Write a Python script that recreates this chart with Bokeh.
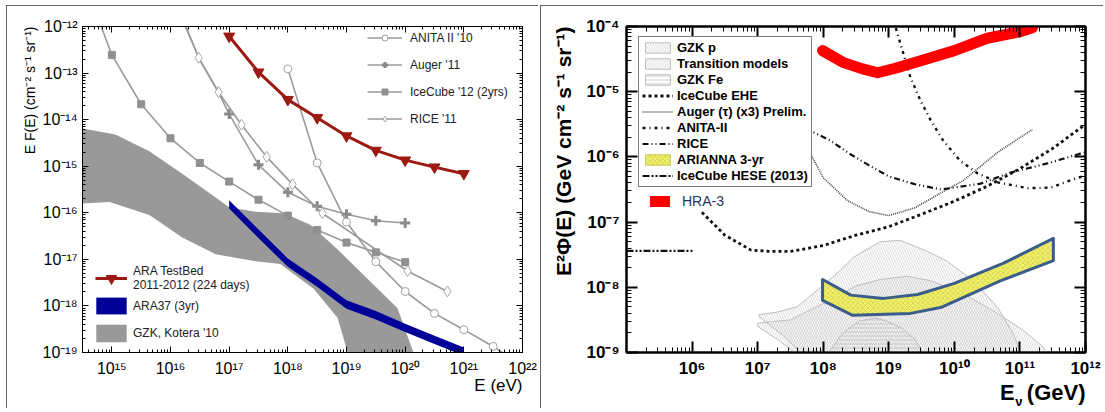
import numpy as np
from bokeh.plotting import figure
from bokeh.models import (LogAxis, FixedTicker, CustomJSTickFormatter, Legend,
                          LegendItem, Range1d, Title)
from bokeh.layouts import row
from bokeh.embed import file_html
from bokeh.resources import INLINE

FONT = "Liberation Sans"

# ================= LEFT PANEL DATA =================
# log10(E / eV)  and  log10(E F(E) / cm^-2 s^-1 sr^-1)
ara_tb_logE = [17.0, 17.5, 18.0, 18.5, 19.0, 19.5, 20.0, 20.5, 21.0]
ara_tb_logF = [-12.21, -12.98, -13.57, -13.96, -14.35, -14.66, -14.87, -15.02, -15.16]

ara37_logE = [17.0, 17.5, 18.0, 18.5, 19.0, 19.5, 20.0, 20.5, 21.0]
ara37_up_logF = [-15.73, -16.36, -16.98, -17.41, -17.88, -18.11, -18.38, -18.64, -18.89]
ara37_lo_logF = [-15.91, -16.54, -17.16, -17.59, -18.06, -18.29, -18.56, -18.82, -19.07]

kotera_up_logE = [14.4, 14.5, 15.06, 15.64, 16.2, 16.77, 17.0, 17.45, 17.93, 18.39, 18.85, 19.41, 19.87, 20.14, 20.25]
kotera_up_logF = [-14.19, -14.19, -14.32, -14.68, -15.16, -15.67, -15.88, -15.98, -16.01, -16.26, -16.79, -17.48, -18.05, -19.0, -19.3]
kotera_lo_logE = [14.4, 14.5, 14.96, 15.64, 16.2, 16.77, 17.45, 17.87, 18.44, 18.85, 19.02, 19.08]
kotera_lo_logF = [-15.80, -15.80, -15.77, -16.05, -16.53, -16.89, -17.04, -17.1, -17.63, -18.26, -19.0, -19.3]

icecube12_logE = [15.0, 15.5, 16.0, 16.5, 17.0, 17.5, 18.0, 18.5, 19.0, 19.5, 20.0]
icecube12_logF = [-12.61, -13.67, -14.40, -14.93, -15.33, -15.72, -16.06, -16.37, -16.64, -16.85, -17.06]
icecube12_lead_logE = [14.7]          # curve continues above the frame
icecube12_lead_logF = [-11.6]

auger11_logE = [17.0, 17.5, 18.0, 18.5, 19.0, 19.5, 20.0]
auger11_logF = [-13.88, -14.97, -15.56, -15.86, -16.03, -16.17, -16.22]
auger11_lead_logE = [16.15, 16.5, 16.82]
auger11_lead_logF = [-11.7, -12.72, -13.42]

rice11_logE = [16.48, 16.82, 17.21, 17.64, 18.08, 18.59, 20.04, 20.72]
rice11_logF = [-12.67, -13.41, -14.11, -14.80, -15.39, -16.01, -17.25, -17.69]
rice11_lead_logE = [16.1]
rice11_lead_logF = [-11.5]

anita10_logE = [18.0, 18.5, 19.0, 19.5, 20.0, 20.5, 21.0, 21.5]
anita10_logF = [-12.91, -14.93, -16.2, -17.05, -17.69, -18.16, -18.51, -18.87]
anita10_tail_logE = [21.9]
anita10_tail_logF = [-19.2]

# ================= RIGHT PANEL DATA =================
# log10(E_nu / GeV)  and  log10(E^2 Phi / GeV cm^-2 s^-1 sr^-1)
hra3_logE = [7.99, 8.3, 8.6, 8.83, 9.1, 9.5, 10.0, 10.5, 11.0, 11.19]
hra3_logF = [-4.37, -4.55, -4.65, -4.71, -4.64, -4.52, -4.37, -4.18, -4.08, -4.02]

arianna_up_logE = [7.99, 8.42, 8.92, 9.44, 10.0, 10.75, 11.51]
arianna_up_logF = [-7.88, -8.12, -8.17, -8.11, -7.94, -7.63, -7.25]
arianna_lo_logE = [7.99, 8.45, 9.33, 9.79, 10.7, 11.51]
arianna_lo_logF = [-8.2, -8.43, -8.4, -8.31, -7.9, -7.59]

ehe_logE = [6.15, 6.5, 6.9, 7.2, 7.5, 8.0, 8.5, 9.0, 9.5, 10.0, 10.5, 11.0, 11.5, 12.0]
ehe_logF = [-6.85, -7.2, -7.43, -7.45, -7.45, -7.36, -7.2, -7.07, -6.88, -6.68, -6.45, -6.18, -5.87, -5.5]

augertau_logE = [7.76, 8.0, 8.37, 8.7, 9.0, 9.4, 9.8, 10.14, 10.66, 11.19]
augertau_logF = [-5.86, -6.32, -6.67, -6.84, -6.9, -6.78, -6.55, -6.36, -5.93, -5.58]

anita2_logE = [9.05, 9.1, 9.15, 9.33, 9.48, 9.64, 9.83, 10.09, 10.35, 10.66, 11.12, 11.47, 11.88, 12.0]
anita2_logF = [-3.85, -4.0, -4.17, -4.78, -5.13, -5.44, -5.75, -6.06, -6.25, -6.39, -6.48, -6.47, -6.32, -6.29]

rice_logE = [7.73, 8.11, 8.4, 8.7, 9.0, 9.4, 9.8, 10.4, 10.86, 11.42, 11.92, 12.0]
rice_logF = [-5.56, -5.75, -5.95, -6.13, -6.3, -6.42, -6.5, -6.41, -6.24, -6.1, -5.95, -5.93]

hese_logE = [5.0, 6.02]
hese_logF = [-7.44, -7.44]

gzkp_logE = [7.02, 7.3, 7.6, 8.0, 8.26, 8.46, 8.87, 9.18, 9.59, 9.89, 10.29, 10.66, 10.9, 11.05, 7.75, 7.4, 7.02]
gzkp_logF = [-8.42, -8.38, -8.3, -7.97, -7.74, -7.54, -7.3, -7.28, -7.45, -7.6, -7.9, -8.31, -8.71, -9.1, -9.1, -8.75, -8.45]

trans_logE = [7.0, 7.5, 8.0, 8.5, 8.87, 9.28, 9.64, 10.14, 10.66, 11.05, 11.36, 11.45, 7.7, 7.3, 7.0]
trans_logF = [-8.55, -8.5, -8.25, -7.98, -7.88, -7.83, -7.9, -8.1, -8.4, -8.66, -8.92, -9.1, -9.1, -8.8, -8.6]

gzkfe_logE = [8.05, 8.3, 8.55, 8.8, 9.0, 9.2, 9.4, 9.55]
gzkfe_logF = [-9.05, -8.7, -8.52, -8.47, -8.53, -8.63, -8.8, -9.05]


def pw(a):
    return [10.0 ** v for v in a]


SUP_JS = """
const sup = {"-": "\u207b", "0": "\u2070", "1": "\u00b9", "2": "\u00b2", "3": "\u00b3",
             "4": "\u2074", "5": "\u2075", "6": "\u2076", "7": "\u2077", "8": "\u2078", "9": "\u2079"};
const e = Math.round(Math.log10(tick));
let s = "";
for (const c of String(e)) { s += sup[c]; }
return "10" + s;
"""


def decade_ticks(lo, hi):
    major = [10.0 ** k for k in range(lo, hi + 1)]
    minor = [m * 10.0 ** k for k in range(lo - 1, hi + 1) for m in range(2, 10)]
    return major, minor


def style_axis(ax, size, bold, maj, mnr, lw, standoff, labels=True):
    ax.major_tick_in = maj
    ax.major_tick_out = 0
    ax.minor_tick_in = mnr
    ax.minor_tick_out = 0
    ax.axis_line_width = lw
    ax.major_tick_line_width = lw
    ax.minor_tick_line_width = 1
    ax.axis_line_color = "black"
    ax.major_label_text_font = FONT
    ax.major_label_text_font_size = size
    ax.major_label_text_font_style = "bold" if bold else "normal"
    ax.major_label_text_color = "black"
    ax.major_label_standoff = standoff
    if not labels:
        ax.formatter = CustomJSTickFormatter(code="return '';")
        ax.major_label_standoff = 0


def add_frame_axes(p, xt, yt, size, bold, maj, mnr, lw, sx, sy):
    xmaj, xmin = xt
    ymaj, ymin = yt
    p.xaxis[0].ticker = FixedTicker(ticks=xmaj, minor_ticks=xmin)
    p.yaxis[0].ticker = FixedTicker(ticks=ymaj, minor_ticks=ymin)
    p.xaxis[0].formatter = CustomJSTickFormatter(code=SUP_JS)
    p.yaxis[0].formatter = CustomJSTickFormatter(code=SUP_JS)
    style_axis(p.xaxis[0], size, bold, maj, mnr, lw, sx)
    style_axis(p.yaxis[0], size, bold, maj, mnr, lw, sy)
    top = LogAxis(ticker=FixedTicker(ticks=xmaj, minor_ticks=xmin))
    right = LogAxis(ticker=FixedTicker(ticks=ymaj, minor_ticks=ymin))
    style_axis(top, size, bold, maj, mnr, lw, 0, labels=False)
    style_axis(right, size, bold, maj, mnr, lw, 0, labels=False)
    p.add_layout(top, "above")
    p.add_layout(right, "right")


def legend(items, loc, gw, gh, standoff, size="12px", spacing=0, padding=0, **kw):
    return Legend(items=items, location=loc, glyph_width=gw, glyph_height=gh,
                  label_standoff=standoff, label_text_font=FONT, label_text_font_size=size,
                  spacing=spacing, padding=padding, margin=0, border_line_color=None,
                  background_fill_alpha=0, **kw)


# ================= LEFT FIGURE =================
p1 = figure(width=532, height=403, x_axis_type="log", y_axis_type="log",
            x_range=Range1d(10 ** 14.5, 1e22), y_range=Range1d(1e-19, 1e-12),
            output_backend="svg", toolbar_location=None,
            min_border_left=76, min_border_right=16, min_border_top=18, min_border_bottom=53)
p1.grid.visible = False
p1.outline_line_color = "black"
p1.background_fill_color = "white"
p1.border_fill_color = "white"
p1.styles = {"outline": "1px solid #333", "outline-offset": "-1px"}
add_frame_axes(p1, decade_ticks(15, 22), decade_ticks(-19, -12), "16px", False, 6, 3, 1, 7, 5)

GRAY = "#9a9a9a"
r_kot = p1.patch(pw(kotera_up_logE + kotera_lo_logE[::-1]), pw(kotera_up_logF + kotera_lo_logF[::-1]),
                 fill_color="#999999", line_color=None)
r_a37 = p1.varea(x=pw(ara37_logE), y1=pw(ara37_lo_logF), y2=pw(ara37_up_logF), fill_color="#000099")

r_ic_l = p1.line(pw(icecube12_lead_logE + icecube12_logE), pw(icecube12_lead_logF + icecube12_logF),
                 line_color=GRAY, line_width=1.6)
r_ic_m = p1.scatter(pw(icecube12_logE), pw(icecube12_logF), marker="square", size=7,
                    fill_color="#909090", line_color="#909090")
r_au_l = p1.line(pw(auger11_lead_logE + auger11_logE), pw(auger11_lead_logF + auger11_logF),
                 line_color=GRAY, line_width=1.6)
r_au_m = p1.scatter(pw(auger11_logE), pw(auger11_logF), marker="cross", size=10,
                    line_color="#8a8a8a", line_width=3)
r_ri_l = p1.line(pw(rice11_lead_logE + rice11_logE), pw(rice11_lead_logF + rice11_logF),
                 line_color=GRAY, line_width=1.6)
r_ri_m = p1.scatter(pw(rice11_logE), pw(rice11_logF), marker="diamond", size=11,
                    fill_color="white", line_color="#a8a8a8", line_width=1)
r_an_l = p1.line(pw(anita10_logE + anita10_tail_logE), pw(anita10_logF + anita10_tail_logF),
                 line_color=GRAY, line_width=1.6)
r_an_m = p1.scatter(pw(anita10_logE), pw(anita10_logF), marker="circle", size=8,
                    fill_color="white", line_color="#a0a0a0", line_width=1)

RED = "#9c1a12"
r_tb_l = p1.line(pw(ara_tb_logE), pw(ara_tb_logF), line_color=RED, line_width=3)
r_tb_m = p1.scatter(pw(ara_tb_logE), pw(ara_tb_logF), marker="inverted_triangle", size=11,
                    fill_color=RED, line_color=RED)

p1.add_layout(legend([
    LegendItem(label="ANITA II '10", renderers=[r_an_l, r_an_m]),
    LegendItem(label="Auger '11", renderers=[r_au_l, r_au_m]),
    LegendItem(label="IceCube '12 (2yrs)", renderers=[r_ic_l, r_ic_m]),
    LegendItem(label="RICE '11", renderers=[r_ri_l, r_ri_m]),
], (285, 226), 35, 15, 8, spacing=12, label_height=15, label_text_color="#222222"))

p1.add_layout(legend([LegendItem(label="ARA TestBed\n2011-2012 (224 days)", renderers=[r_tb_l, r_tb_m])],
                     (13, 60), 32, 26, 6, label_text_color="#222222"))
p1.add_layout(legend([LegendItem(label="ARA37 (3yr)", renderers=[r_a37])],
                     (10, 36), 38, 21, 3, label_text_color="#222222"))
p1.add_layout(legend([LegendItem(label="GZK, Kotera '10", renderers=[r_kot])],
                     (10, 8), 38, 22, 3, label_text_color="#222222"))

p1.add_layout(Title(text="E F(E) (cm\u207b\u00b2 s\u207b\u00b9 sr\u207b\u00b9)", align="right",
                    text_font=FONT, text_font_size="14px", text_font_style="normal",
                    text_color="black", standoff=4), "left")
p1.add_layout(Title(text="E (eV)", align="right", vertical_align="top", text_font=FONT,
                    text_font_size="17px", text_font_style="normal", text_color="black",
                    standoff=-8), "below")

# ================= RIGHT FIGURE =================
p2 = figure(width=563, height=403, x_axis_type="log", y_axis_type="log",
            x_range=Range1d(1e5, 1e12), y_range=Range1d(1e-9, 1e-4),
            output_backend="svg", toolbar_location=None,
            min_border_left=86, min_border_right=18, min_border_top=21, min_border_bottom=56)
p2.grid.visible = False
p2.outline_line_color = "black"
p2.outline_line_width = 2
p2.background_fill_color = "white"
p2.border_fill_color = "white"
p2.styles = {"outline": "1px solid #333", "outline-offset": "-1px"}
add_frame_axes(p2, decade_ticks(6, 12), decade_ticks(-9, -4), "17px", True, 11, 5, 2, 6, 7)

HATCH = "#c2c2c2"
r_gp = p2.patch(pw(gzkp_logE), pw(gzkp_logF), fill_color=None, line_color="#bdbdbd", line_width=1,
                hatch_pattern="\\", hatch_color=HATCH, hatch_scale=5, hatch_weight=0.6)
r_tr = p2.patch(pw(trans_logE), pw(trans_logF), fill_color=None, line_color="#bdbdbd", line_width=1,
                hatch_pattern="/", hatch_color=HATCH, hatch_scale=5, hatch_weight=0.6)
r_fe = p2.patch(pw(gzkfe_logE), pw(gzkfe_logF), fill_color=None, line_color="#bdbdbd", line_width=1,
                hatch_pattern="-", hatch_color="#b0b0b0", hatch_scale=4, hatch_weight=0.6)

ar_x = pw(arianna_up_logE + arianna_lo_logE[::-1])
ar_y = pw(arianna_up_logF + arianna_lo_logF[::-1])
# thin-edged copy (hidden underneath) used as the legend swatch
r_ar_leg = p2.patch(ar_x, ar_y, fill_color="#f0ef66", line_color="#c8c858", line_width=1,
                    hatch_pattern="x", hatch_color="#c8c858", hatch_scale=5, hatch_weight=0.6)
r_ar = p2.patch(ar_x, ar_y, fill_color="#f0ef66", line_color="#3b5d89", line_width=3, line_join="round",
                hatch_pattern="x", hatch_color="#c8c858", hatch_scale=5, hatch_weight=0.6)

BLK = "#111111"
r_hese = p2.line(pw(hese_logE), pw(hese_logF), line_color=BLK, line_width=2.2, line_dash="7 2 2 2 2 2")
r_ehe = p2.line(pw(ehe_logE), pw(ehe_logF), line_color=BLK, line_width=2.8, line_dash="3 3")
r_aut = p2.line(pw(augertau_logE), pw(augertau_logF), line_color="#444444", line_width=1.6, line_dash="1 1")
r_an2 = p2.line(pw(anita2_logE), pw(anita2_logF), line_color=BLK, line_width=2.4, line_dash="3 4 1 4")
r_ric = p2.line(pw(rice_logE), pw(rice_logF), line_color=BLK, line_width=2.2, line_dash="6 3 1 3 1 3")

r_hra = p2.line(pw(hra3_logE), pw(hra3_logF), line_color="#ff0000", line_width=11,
                line_cap="round", line_join="round")

lg2 = legend([
    LegendItem(label="GZK p", renderers=[r_gp]),
    LegendItem(label="Transition models", renderers=[r_tr]),
    LegendItem(label="GZK Fe", renderers=[r_fe]),
    LegendItem(label="IceCube EHE", renderers=[r_ehe]),
    LegendItem(label="Auger (\u03c4) (x3) Prelim.", renderers=[r_aut]),
    LegendItem(label="ANITA-II", renderers=[r_an2]),
    LegendItem(label="RICE", renderers=[r_ric]),
    LegendItem(label="ARIANNA 3-yr", renderers=[r_ar_leg]),
    LegendItem(label="IceCube HESE (2013)", renderers=[r_hese]),
], (12, 165), 31, 13, 4, size="13px", spacing=1, padding=3, label_height=14,
    label_text_font_style="bold", label_text_color="black")
lg2.border_line_color = "black"
lg2.border_line_width = 1
lg2.background_fill_color = "white"
lg2.background_fill_alpha = 1
p2.add_layout(lg2)

p2.add_layout(legend([LegendItem(label="HRA-3", renderers=[r_hra])],
                     (24, 143), 20, 14, 12, size="14px", label_text_color="#23395d"))

p2.add_layout(Title(text="E\u00b2\u03a6(E) (GeV cm\u207b\u00b2 s\u207b\u00b9 sr\u207b\u00b9)", align="right",
                    text_font=FONT, text_font_size="21px", text_font_style="bold",
                    text_color="black", standoff=18), "left")
p2.add_layout(Title(text="E\u00a0\u00a0(GeV)", align="right", vertical_align="top", text_font=FONT,
                    text_font_size="22px", text_font_style="bold", text_color="black",
                    standoff=-2), "below")
p2.add_layout(Title(text="\u03bd", align="right", vertical_align="top", offset=63, text_font=FONT,
                    text_font_size="13px", text_font_style="bold", text_color="black",
                    standoff=-24), "below")

layout = row(p1, p2, spacing=2)
layout.margin = (5, 0, 0, 6)
open("out.html", "w").write(file_html(layout, INLINE))
